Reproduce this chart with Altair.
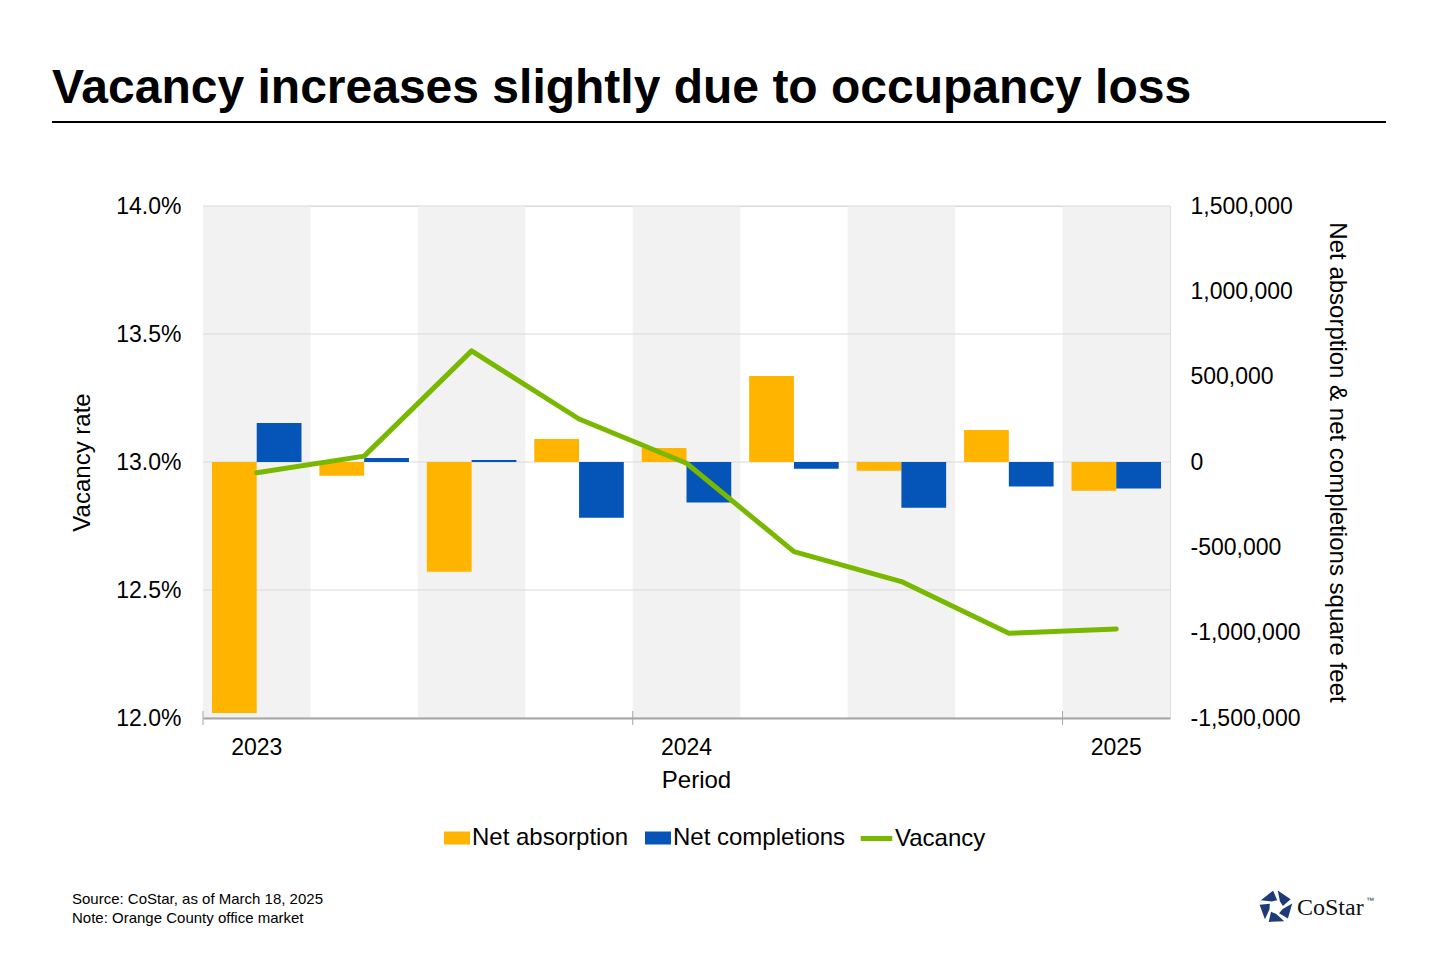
import math
import altair as alt
import pandas as pd

# ---- data ----
quarters = ["2023 Q1", "2023 Q2", "2023 Q3", "2023 Q4",
            "2024 Q1", "2024 Q2", "2024 Q3", "2024 Q4", "2025 Q1"]
net_absorption = [-1470000, -80000, -643000, 135000, 82000, 504000, -51000, 187000, -168000]
net_completions = [229000, 23000, 12000, -326000, -238000, -39000, -268000, -144000, -156000]
vacancy = [12.958, 13.023, 13.434, 13.168, 12.995, 12.650, 12.533, 12.331, 12.348]
vac_ticks = [12.0, 12.5, 13.0, 13.5, 14.0]
sf_ticks = [-1500000, -1000000, -500000, 0, 500000, 1000000, 1500000]
year_ticks = ["2023 Q1", "2024 Q1", "2025 Q1"]

ORANGE = "#FFB400"
BLUE = "#0455B7"
GREEN = "#78B800"
FONT = "Liberation Sans"

W, H = 967, 512

df = pd.DataFrame({
    "quarter": quarters,
    "Net absorption": net_absorption,
    "Net completions": net_completions,
    "vacancy": vacancy,
})

xscale = alt.Scale(domain=quarters, paddingInner=0, paddingOuter=0)
xaxis = alt.Axis(
    values=year_ticks,
    labelExpr="substring(datum.value, 0, 4)",
    ticks=False,
    domainColor="#A6A6A6", domainWidth=2,
    labelFontSize=23, labelFont=FONT, labelColor="#000000",
    labelPadding=18, labelAngle=0,
    title="Period", titleFontSize=24, titleFont=FONT,
    titleFontWeight="normal", titleColor="#000000", titlePadding=9,
    titleX=696 - 203,
    grid=False,
)

bands = (
    alt.Chart(df)
    .transform_window(idx="row_number()")
    .transform_filter("datum.idx % 2 == 1")
    .mark_rect(color="#F2F2F2")
    .encode(x=alt.X("quarter:N", scale=xscale, axis=xaxis),
            y=alt.value(0), y2=alt.value(H))
)

grid = (
    alt.Chart(pd.DataFrame({"t": vac_ticks}))
    .mark_rule(color="#D9D9D9", strokeWidth=1)
    .encode(y=alt.Y("t:Q", scale=alt.Scale(domain=[12, 14], nice=False, zero=False), axis=None))
)

xticks = (
    alt.Chart(pd.DataFrame({"quarter": year_ticks}))
    .mark_rule(color="#A6A6A6", strokeWidth=1)
    .encode(x=alt.X("quarter:N", scale=xscale, axis=xaxis, bandPosition=0),
            y=alt.value(H - 7), y2=alt.value(H + 7))
)

bars = (
    alt.Chart(df)
    .transform_fold(["Net absorption", "Net completions"], as_=["series", "value"])
    .mark_bar()
    .encode(
        x=alt.X("quarter:N", scale=xscale, axis=xaxis),
        xOffset=alt.XOffset("series:N", scale=alt.Scale(paddingInner=0, paddingOuter=0.2)),
        y=alt.Y(
            "value:Q",
            scale=alt.Scale(domain=[-1500000, 1500000], nice=False),
            axis=alt.Axis(
                orient="right", values=sf_ticks,
                labelExpr="(datum.value < 0 ? '-' : '') + format(abs(datum.value), ',')",
                grid=False, domain=False, ticks=False,
                labelFontSize=23, labelFont=FONT, labelColor="#000000", labelPadding=20,
                title="Net absorption & net completions square feet",
                titleFontSize=24, titleFont=FONT, titleFontWeight="normal",
                titleColor="#000000", titlePadding=25,
            ),
        ),
        color=alt.Color(
            "series:N",
            scale=alt.Scale(domain=["Net absorption", "Net completions"], range=[ORANGE, BLUE]),
            legend=alt.Legend(
                title=None, orient="none", direction="horizontal",
                legendX=240, legendY=618,
                symbolType="M-1,-0.5H1V0.5H-1Z", symbolSize=676,
                labelFontSize=24, labelFont=FONT, labelColor="#000000", labelLimit=400,
                labelOffset=1, columnPadding=15,
            ),
        ),
    )
)

line = (
    alt.Chart(df)
    .transform_calculate(s="'Vacancy'")
    .mark_line(strokeWidth=5, strokeCap="round", strokeJoin="round")
    .encode(
        x=alt.X("quarter:N", scale=xscale, axis=xaxis),
        y=alt.Y(
            "vacancy:Q",
            scale=alt.Scale(domain=[12, 14], nice=False, zero=False),
            axis=alt.Axis(
                orient="left", values=vac_ticks,
                labelExpr="format(datum.value, '.1f') + '%'",
                grid=False, domain=False, ticks=False,
                labelFontSize=23, labelFont=FONT, labelColor="#000000", labelPadding=22,
                title="Vacancy rate", titleFontSize=24, titleFont=FONT,
                titleFontWeight="normal", titleColor="#000000", titlePadding=21,
            ),
        ),
        stroke=alt.Stroke(
            "s:N",
            scale=alt.Scale(domain=["Vacancy"], range=[GREEN]),
            legend=alt.Legend(
                title=None, orient="none", direction="horizontal",
                legendX=655, legendY=614,
                symbolType="stroke", symbolSize=1000, symbolStrokeWidth=5,
                labelFontSize=24, labelFont=FONT, labelColor="#000000", labelOffset=0,
                labelLimit=400,
            ),
        ),
    )
)

one = pd.DataFrame({"k": [0]})

underline = (
    alt.Chart(one)
    .mark_rule(color="#000000", strokeWidth=2)
    .encode(x=alt.value(52 - 203), x2=alt.value(1386 - 203), y=alt.value(122 - 206))
)

title_txt = (
    alt.Chart(pd.DataFrame({"t": ["Vacancy increases slightly due to occupancy loss"]}))
    .mark_text(align="left", baseline="middle", fontSize=48, font=FONT, fontWeight="bold", color="#000000")
    .encode(text="t:N", x=alt.value(52 - 203), y=alt.value(89 - 206))
)

footer = (
    alt.Chart(pd.DataFrame({"t": ["Source: CoStar, as of March 18, 2025\nNote: Orange County office market"]}))
    .mark_text(align="left", baseline="middle", fontSize=15, font=FONT, color="#000000",
               lineBreak="\n", lineHeight=19)
    .encode(text="t:N", x=alt.value(72 - 203), y=alt.value(899 - 206))
)

# logo
pts = []
for k in range(5):
    a = -90 + 72 * k
    quad = [(1.0, a + 6), (1.0, a + 62), (0.42, a + 82), (0.42, a + 34)]
    coords = [(r * math.cos(math.radians(t)), r * math.sin(math.radians(t))) for r, t in quad]
    pts.append("M" + "L".join(f"{x:.3f},{y:.3f}" for x, y in coords) + "Z")
star_path = "".join(pts)

logo_star = (
    alt.Chart(one)
    .mark_point(shape=star_path, filled=True, color="#1E3A78", size=1100, opacity=1)
    .encode(x=alt.value(1276 - 203), y=alt.value(907 - 206))
)
logo_text = (
    alt.Chart(pd.DataFrame({"t": ["CoStar"]}))
    .mark_text(align="left", baseline="middle", fontSize=24, font="Liberation Serif", color="#111111")
    .encode(text="t:N", x=alt.value(1297 - 203), y=alt.value(908 - 206))
)
logo_tm = (
    alt.Chart(pd.DataFrame({"t": ["™"]}))
    .mark_text(align="left", baseline="middle", fontSize=8, font=FONT, color="#333333")
    .encode(text="t:N", x=alt.value(1366 - 203), y=alt.value(901 - 206))
)

chart = (
    alt.layer(bands, grid, xticks, bars, line, underline, title_txt, footer, logo_star, logo_text, logo_tm)
    .resolve_scale(y="independent", color="independent", stroke="independent")
    .properties(
        width=W, height=H,
        padding={"left": 195, "top": 198, "right": 1424 - 195 - W, "bottom": 944 - 198 - H},
        autosize=alt.AutoSizeParams(type="none"),
    )
    .configure_view(stroke=None)
    .configure(background="#FFFFFF")
)

chart.save("out.html", embed_options={"renderer": "svg", "actions": False})
